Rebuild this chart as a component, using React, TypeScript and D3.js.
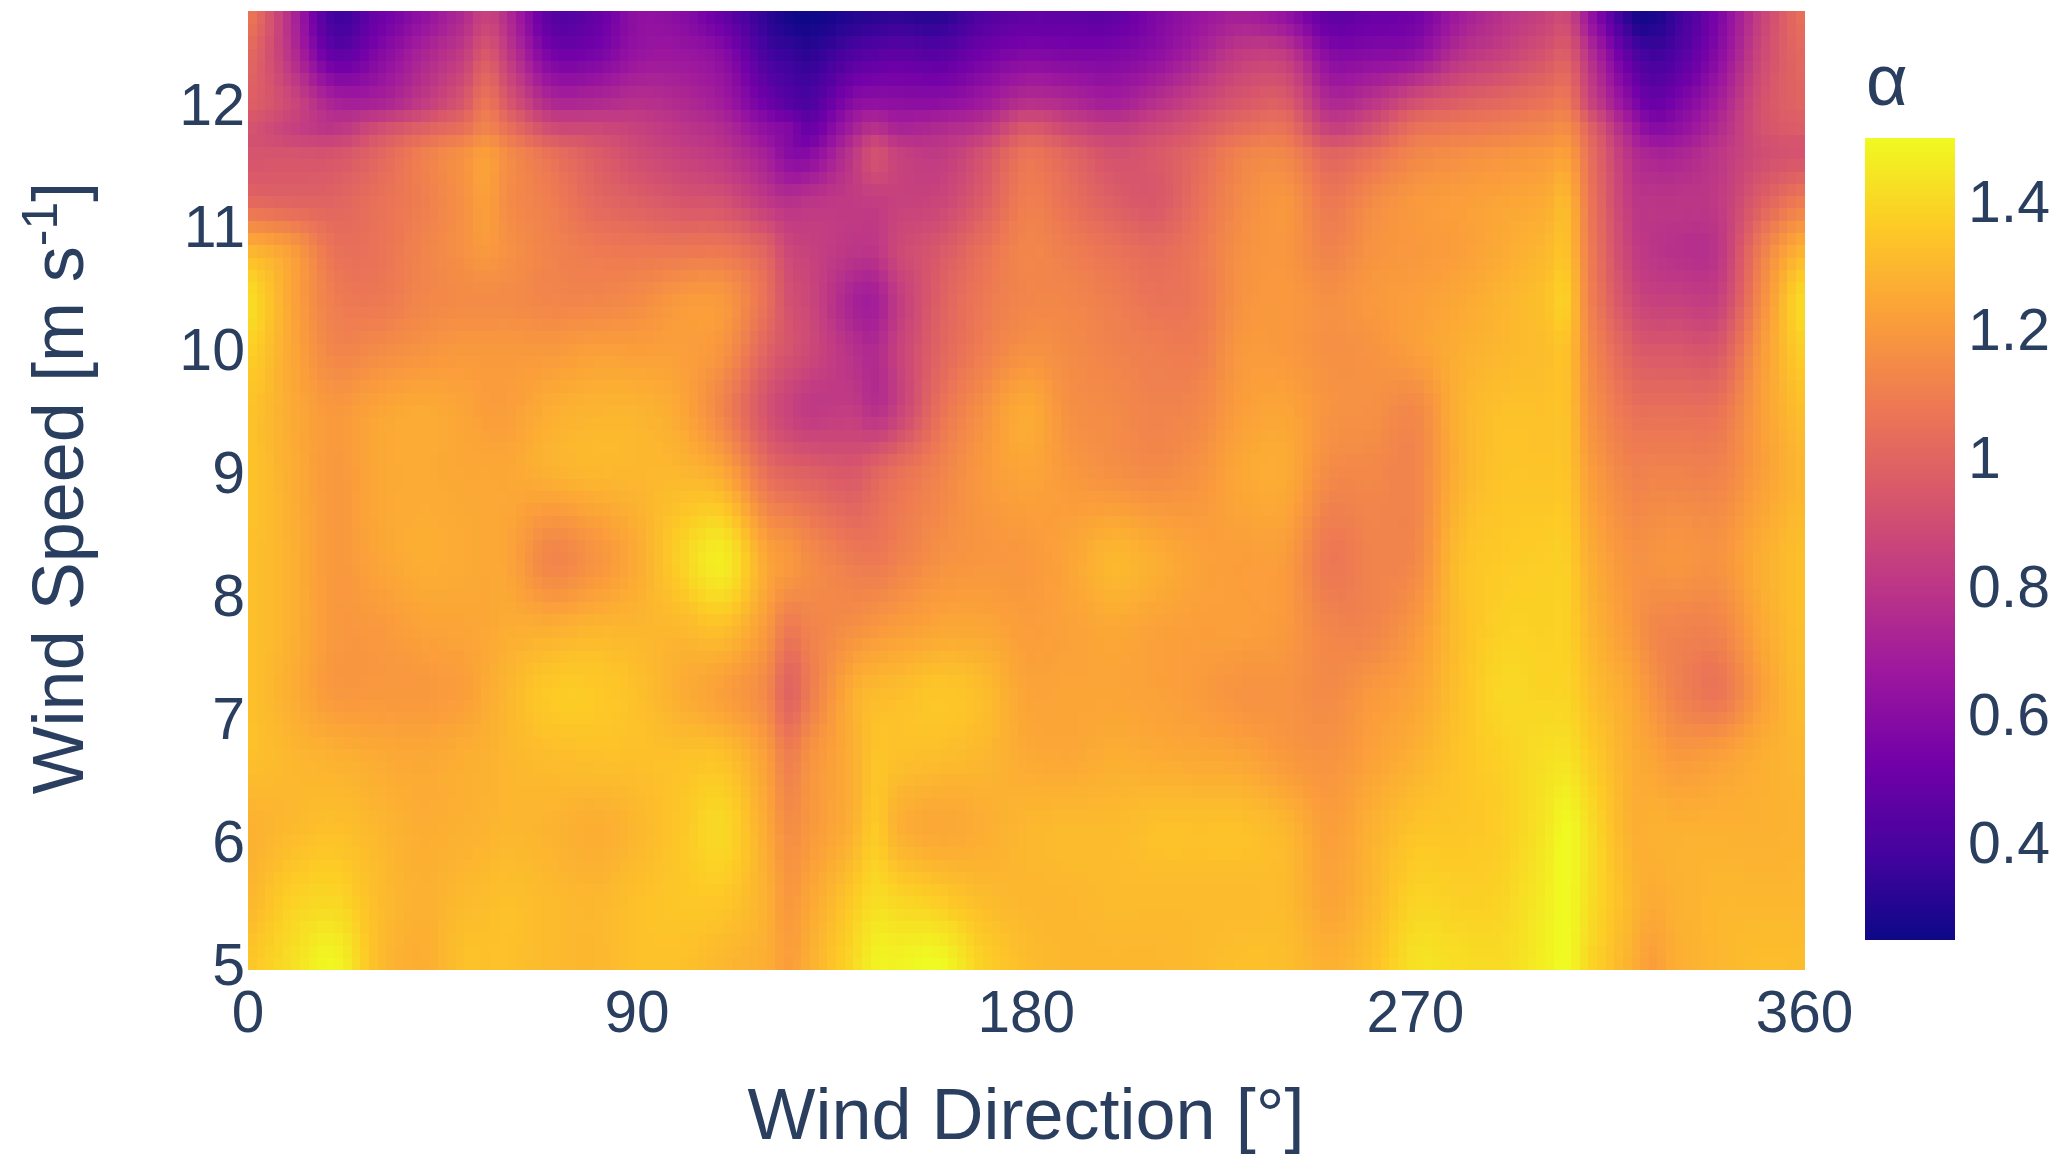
import React from "react";
import * as d3 from "d3";

const windDirections = [0,10,20,30,40,50,55,60,70,80,90,100,110,120,125,130,140,145,150,160,170,180,190,200,210,220,230,240,250,260,270,280,290,300,305,310,320,325,330,340,350,360];
const windSpeeds = [12.73,12.4,12,11.8,11.6,11.2,10.8,10.4,10,9.5,9,8.3,7.7,7.2,6.7,6.1,5.5,5];

const alphaAt1273 = [1.08,.75,.38,.5,.62,.75,.85,.75,.45,.48,.62,.6,.48,.33,.27,.25,.3,.32,.33,.32,.42,.47,.47,.47,.57,.65,.7,.63,.47,.5,.53,.68,.78,.85,.88,.65,.3,.28,.36,.56,.85,1.05];
const alphaAt124 = [1.02,.78,.48,.58,.72,.83,.95,.82,.55,.55,.65,.66,.6,.4,.36,.33,.42,.45,.47,.45,.53,.58,.57,.57,.62,.72,.83,.82,.6,.6,.63,.78,.85,.93,.97,.78,.45,.38,.42,.6,.88,1.02];
const alphaAt12 = [.98,.88,.72,.72,.82,.95,1.07,.95,.75,.75,.78,.75,.68,.52,.45,.42,.6,.63,.62,.62,.68,.78,.75,.7,.78,.87,.95,.97,.75,.8,.92,.98,1.02,1.06,1.08,.88,.6,.5,.55,.7,.92,1];
const alphaAt118 = [.93,.85,.8,.9,.98,1.05,1.12,1.05,.9,.88,.85,.8,.75,.62,.58,.5,.7,.78,.72,.75,.8,.95,.88,.83,.88,.95,1.03,1.05,.85,.92,1.05,1.08,1.1,1.13,1.15,1,.7,.6,.62,.75,.92,.97];
const alphaAt116 = [.93,.93,.93,1,1.1,1.17,1.22,1.15,1.05,.97,.9,.85,.8,.7,.6,.6,.8,.92,.85,.82,.92,1.06,1,.92,.95,1.02,1.12,1.13,1,1.05,1.13,1.16,1.18,1.2,1.22,1.05,.78,.72,.72,.8,.9,.93];
const alphaAt112 = [1.02,1,1,1.05,1.1,1.17,1.22,1.15,1.1,1.02,.98,.94,.92,.82,.78,.8,.82,.83,.85,.87,.97,1.1,1.05,.98,.95,1.05,1.15,1.19,1.08,1.15,1.2,1.22,1.24,1.26,1.3,1.08,.82,.8,.8,.82,.98,1.1];
const alphaAt108 = [1.3,1.22,1.06,1.06,1.12,1.17,1.2,1.17,1.12,1.09,1.08,1.08,1.08,1,.88,.85,.8,.8,.88,.95,1.05,1.13,1.1,1.06,1.03,1.08,1.17,1.19,1.12,1.18,1.2,1.22,1.26,1.3,1.33,1.1,.85,.8,.78,.8,1.1,1.3];
const alphaAt104 = [1.42,1.24,1.1,1.08,1.13,1.15,1.15,1.15,1.13,1.13,1.15,1.2,1.2,1.05,.92,.87,.72,.7,.82,.98,1.08,1.13,1.13,1.1,1.06,1.08,1.18,1.2,1.17,1.2,1.22,1.25,1.29,1.33,1.37,1.12,.9,.85,.85,.85,1.15,1.42];
const alphaAt10 = [1.38,1.25,1.13,1.15,1.18,1.2,1.2,1.2,1.2,1.22,1.22,1.22,1.18,1,.93,.88,.78,.75,.85,1,1.1,1.17,1.15,1.12,1.1,1.1,1.2,1.2,1.17,1.18,1.22,1.27,1.3,1.32,1.33,1.15,.98,.95,.95,.95,1.2,1.38];
const alphaAt95 = [1.34,1.26,1.2,1.24,1.26,1.24,1.22,1.22,1.27,1.29,1.29,1.25,1.12,.93,.86,.82,.83,.78,.85,1.05,1.17,1.26,1.17,1.15,1.12,1.14,1.22,1.24,1.18,1.17,1.14,1.28,1.33,1.33,1.33,1.18,1.06,1.05,1.05,1.06,1.22,1.33];
const alphaAt9 = [1.34,1.27,1.2,1.25,1.26,1.25,1.25,1.25,1.28,1.3,1.3,1.3,1.25,1.05,1,.98,.95,1,1.05,1.12,1.2,1.24,1.2,1.17,1.15,1.18,1.25,1.26,1.15,1.14,1.13,1.28,1.34,1.34,1.34,1.22,1.12,1.12,1.12,1.12,1.22,1.3];
const alphaAt83 = [1.33,1.28,1.2,1.24,1.27,1.26,1.25,1.24,1.13,1.18,1.26,1.38,1.46,1.25,1.2,1.15,1.09,1.08,1.11,1.17,1.19,1.2,1.24,1.3,1.27,1.23,1.22,1.21,1.08,1.12,1.14,1.32,1.36,1.37,1.37,1.27,1.18,1.18,1.19,1.18,1.27,1.33];
const alphaAt77 = [1.33,1.28,1.2,1.2,1.23,1.24,1.25,1.27,1.28,1.3,1.3,1.3,1.32,1.2,1.08,1.12,1.17,1.2,1.22,1.25,1.25,1.22,1.23,1.25,1.23,1.22,1.22,1.2,1.13,1.13,1.2,1.32,1.38,1.38,1.38,1.3,1.2,1.14,1.12,1.12,1.25,1.33];
const alphaAt72 = [1.33,1.27,1.2,1.2,1.2,1.22,1.26,1.3,1.36,1.36,1.33,1.27,1.22,1.14,1,1.1,1.27,1.31,1.32,1.35,1.32,1.24,1.24,1.24,1.23,1.21,1.18,1.18,1.15,1.2,1.24,1.33,1.4,1.39,1.39,1.33,1.25,1.18,1.12,1.07,1.22,1.32];
const alphaAt67 = [1.33,1.3,1.28,1.26,1.25,1.27,1.28,1.3,1.32,1.33,1.33,1.33,1.33,1.22,1.1,1.18,1.27,1.34,1.33,1.32,1.3,1.26,1.25,1.27,1.26,1.25,1.24,1.2,1.18,1.23,1.28,1.34,1.38,1.42,1.43,1.37,1.27,1.24,1.2,1.22,1.27,1.3];
const alphaAt61 = [1.28,1.31,1.33,1.3,1.27,1.28,1.29,1.3,1.29,1.27,1.3,1.35,1.4,1.26,1.16,1.2,1.28,1.36,1.28,1.25,1.27,1.3,1.31,1.31,1.33,1.33,1.33,1.3,1.22,1.28,1.34,1.35,1.37,1.44,1.5,1.42,1.28,1.28,1.28,1.28,1.28,1.29];
const alphaAt55 = [1.3,1.38,1.4,1.32,1.28,1.31,1.32,1.33,1.31,1.3,1.33,1.35,1.35,1.28,1.2,1.25,1.36,1.42,1.4,1.37,1.32,1.3,1.3,1.31,1.31,1.31,1.31,1.31,1.24,1.3,1.39,1.38,1.39,1.46,1.5,1.42,1.3,1.26,1.28,1.3,1.3,1.3];
const alphaAt5 = [1.35,1.42,1.49,1.32,1.27,1.33,1.33,1.33,1.31,1.3,1.33,1.33,1.3,1.27,1.22,1.28,1.4,1.48,1.48,1.5,1.38,1.32,1.3,1.3,1.3,1.31,1.33,1.32,1.28,1.33,1.43,1.42,1.41,1.47,1.5,1.4,1.28,1.22,1.27,1.3,1.32,1.32];

const alphaRows = [alphaAt1273,alphaAt124,alphaAt12,alphaAt118,alphaAt116,alphaAt112,alphaAt108,alphaAt104,alphaAt10,alphaAt95,alphaAt9,alphaAt83,alphaAt77,alphaAt72,alphaAt67,alphaAt61,alphaAt55,alphaAt5];

const xTicks = [0, 90, 180, 270, 360];
const yTicks = [5, 6, 7, 8, 9, 10, 11, 12];
const colorTicks = [0.4, 0.6, 0.8, 1, 1.2, 1.4];
const plasma = ["#0d0887","#46039f","#7201a8","#9c179e","#bd3786","#d8576b","#ed7953","#fb9f3a","#fdca26","#f0f921"];

const textColor = "#2a3f5f";
const fontFamily = "'Liberation Sans', Arial, sans-serif";

const W = 2067, H = 1166;
const x = d3.scaleLinear().domain([0, 360]).range([248, 1804.5]);
const y = d3.scaleLinear().domain([5, 12]).range([963.5, 103.5]);
const cbY = d3.scaleLinear().domain([0.25, 1.5]).range([939.5, 137.5]);
const color = d3.scaleLinear<string>()
  .domain(plasma.map((_, i) => 0.25 + (1.25 * i) / (plasma.length - 1)))
  .range(plasma)
  .interpolate(d3.interpolateRgb)
  .clamp(true);

const xIndex = d3.scaleLinear().domain(windDirections).range(windDirections.map((_, i) => i)).clamp(true);
const yIndex = d3.scaleLinear().domain(windSpeeds).range(windSpeeds.map((_, i) => i)).clamp(true);

function catmull(p0: number, p1: number, p2: number, p3: number, t: number) {
  return 0.5 * (2 * p1 + (p2 - p0) * t + (2 * p0 - 5 * p1 + 4 * p2 - p3) * t * t + (3 * p1 - p0 - 3 * p2 + p3) * t * t * t);
}
function sampleLine(arr: number[], u: number) {
  const n = arr.length;
  const i = Math.min(Math.floor(u), n - 2);
  const t = u - i;
  return catmull(arr[Math.max(i - 1, 0)], arr[i], arr[i + 1], arr[Math.min(i + 2, n - 1)], t);
}
function sampleAlpha(dir: number, ws: number) {
  const u = xIndex(dir), v = yIndex(ws);
  const col = alphaRows.map((r) => sampleLine(r, u));
  return sampleLine(col, v);
}

const dirStep = 2;
const wsStep = 0.1;
const cells: { d: number; s: number; v: number }[] = [];
for (let d = 0; d < 360; d += dirStep) {
  for (let k = 0; k < 78; k++) {
    const s = 4.95 + k * wsStep;
    cells.push({ d, s, v: sampleAlpha(d + dirStep / 2, s + wsStep / 2) });
  }
}
const barSteps = d3.range(0.25, 1.5, 0.0025);

export default function App() {
  return (
    <svg width={W} height={H} viewBox={`0 0 ${W} ${H}`} style={{ position: "absolute", left: 0, top: 0, display: "block", background: "#fff" }} fontFamily={fontFamily} fill={textColor}>
      <g shapeRendering="crispEdges">
        {cells.map((c, i) => (
          <rect key={i} x={x(c.d)} y={y(c.s + wsStep)} width={x(c.d + dirStep) - x(c.d) + 0.5} height={y(c.s) - y(c.s + wsStep) + 0.5} fill={color(c.v)} />
        ))}
      </g>
      <g shapeRendering="crispEdges">
        {barSteps.map((v, i) => (
          <rect key={i} x={1864.5} width={90} y={cbY(v + 0.0025)} height={cbY(v) - cbY(v + 0.0025) + 0.6} fill={color(v + 0.00125)} />
        ))}
      </g>
      {xTicks.map((t) => (
        <text key={t} x={x(t)} y={1032} fontSize={58.5} textAnchor="middle">{t}</text>
      ))}
      {yTicks.map((t) => (
        <text key={t} x={245} y={y(t) + 21} fontSize={59} textAnchor="end">{t}</text>
      ))}
      {colorTicks.map((t) => (
        <text key={t} x={1968} y={cbY(t) + 20} fontSize={59}>{t}</text>
      ))}
      <text x={1866} y={105} fontSize={72}>α</text>
      <text x={1026} y={1139} fontSize={72} textAnchor="middle">Wind Direction [°]</text>
      <text transform="translate(83,488) rotate(-90)" fontSize={72} textAnchor="middle">
        Wind Speed [m s<tspan dy={-26} fontSize={50}>-1</tspan><tspan dy={26}>]</tspan>
      </text>
    </svg>
  );
}
